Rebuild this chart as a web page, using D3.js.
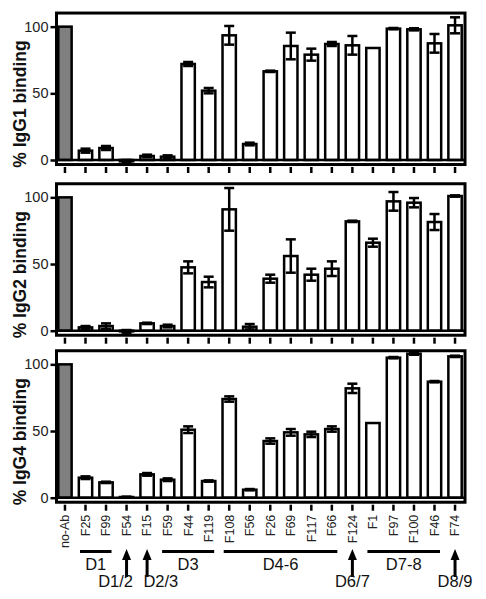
<!DOCTYPE html>
<html><head><meta charset="utf-8">
<script src="https://cdn.jsdelivr.net/npm/d3@7"></script>
<style>body{margin:0;background:#fff} svg{display:block}</style>
</head><body><svg id="c" width="486" height="599"></svg>
<script>
const categories = ["no-Ab","F25","F99","F54","F15","F59","F44","F119","F108","F56","F26","F69","F117","F66","F124","F1","F97","F100","F46","F74"];
const igg1    = [100, 7, 9, -1, 3, 2.5, 72, 52, 93.5, 12, 66.5, 85.5, 79, 87, 86, 84, 98.5, 98, 87.5, 101];
const igg1Err = [0, 1.5, 1.5, 1, 1, 1, 1.5, 2, 7, 1, 0.5, 10, 4.5, 1.5, 7, 0, 0.5, 0.8, 7, 6];
const igg2    = [100, 2.5, 3.5, -0.5, 5.5, 3.5, 47.5, 36.5, 91, 3, 39, 56, 42, 46.5, 82, 66, 97, 96, 81.5, 101];
const igg2Err = [0, 1, 2, 1, 0.5, 1, 4.5, 4, 16, 2, 3, 12.5, 4.5, 5.5, 0.5, 3, 7, 3.5, 6, 0.5];
const igg4    = [100, 15, 11.5, 0.5, 17.5, 13.5, 51, 12.5, 74, 6, 42.5, 49, 47.5, 51.5, 82, 56, 105, 108, 87, 106];
const igg4Err = [0, 1, 0.5, 0.3, 1, 1, 2.5, 0.5, 2, 0.5, 2, 2.5, 2, 2, 3.5, 0, 0.5, 0.8, 0.5, 0.5];
const panelTitles = ["% IgG1 binding", "% IgG2 binding", "% IgG4 binding"];
const yTicks = [0, 50, 100];
const groupNames = ["D1", "D3", "D4-6", "D7-8"];
const groupFrom  = ["F25", "F59", "F108", "F1"];
const groupTo    = ["F99", "F119", "F66", "F46"];
const arrowNames = ["D1/2", "D2/3", "D6/7", "D8/9"];
const arrowAt    = ["F54", "F15", "F124", "F74"];

const series = [[igg1, igg1Err], [igg2, igg2Err], [igg4, igg4Err]];
const svg = d3.select("#c");
const font = "Liberation Sans, Arial, Helvetica, sans-serif";
const x = d3.scaleBand().domain(categories).range([54.7, 465.3]).paddingInner(0.35).paddingOuter(0.175);
const frameL = 56.5, frameR = 465;
const zeros = [160, 330.7, 497.7];

series.forEach(([vals, errs], p) => {
  const Z = zeros[p];
  const y = d3.scaleLinear().domain([0, 100]).range([Z, Z - 133.35]);
  const g = svg.append("g");
  g.append("rect").attr("x", frameL).attr("y", y(110.2)).attr("width", frameR - frameL)
    .attr("height", y(-3.4) - y(110.2)).attr("fill", "none").attr("stroke", "#000").attr("stroke-width", 3);
  g.selectAll("rect.bar").data(categories).join("rect").attr("class", "bar")
    .attr("x", d => x(d)).attr("width", x.bandwidth())
    .attr("y", (d, i) => Math.min(y(vals[i]), y(0)))
    .attr("height", (d, i) => Math.abs(y(vals[i]) - y(0)))
    .attr("fill", (d, i) => i === 0 ? "#7f7f7f" : "#fff")
    .attr("stroke", "#000").attr("stroke-width", 2.5);
  g.append("line").attr("x1", frameL).attr("x2", frameR).attr("y1", y(0)).attr("y2", y(0))
    .attr("stroke", "#000").attr("stroke-width", 2.5);
  categories.forEach((c, i) => {
    if (!errs[i]) return;
    const cx = x(c) + x.bandwidth() / 2;
    const lo = y(vals[i] - errs[i]), hi = y(vals[i] + errs[i]);
    const eb = g.append("g").attr("stroke", "#000").attr("stroke-width", 2.5);
    eb.append("line").attr("x1", cx).attr("x2", cx).attr("y1", lo).attr("y2", hi);
    eb.append("line").attr("x1", cx - 5).attr("x2", cx + 5).attr("y1", lo).attr("y2", lo);
    eb.append("line").attr("x1", cx - 5).attr("x2", cx + 5).attr("y1", hi).attr("y2", hi);
  });
  const ya = g.append("g").attr("transform", `translate(${frameL},0)`)
    .call(d3.axisLeft(y).tickValues(yTicks).tickSize(6).tickPadding(2));
  ya.select(".domain").remove();
  ya.selectAll(".tick line").attr("stroke", "#000").attr("stroke-width", 2.5);
  ya.selectAll(".tick text").attr("font-family", font).attr("font-size", 14.5).attr("fill", "#222");
  const xa = g.append("g").attr("transform", `translate(0,${Z + 7})`)
    .call(d3.axisBottom(x).tickSize(6).tickPadding(3).tickFormat(p === 2 ? (d => d) : () => ""));
  xa.select(".domain").remove();
  xa.selectAll(".tick line").attr("stroke", "#000").attr("stroke-width", 2.5);
  if (p === 2) {
    xa.selectAll(".tick text").attr("font-family", font).attr("font-size", 12.5).attr("fill", "#222")
      .attr("transform", "rotate(-90)").attr("text-anchor", "end")
      .attr("x", -10).attr("y", 0).attr("dy", "0.35em");
  }
  g.append("text").attr("transform", `translate(20,${Z - 56}) rotate(-90)`)
    .attr("text-anchor", "middle").attr("dominant-baseline", "central")
    .attr("font-family", font).attr("font-weight", "bold").attr("font-size", 17.5).attr("fill", "#111")
    .text(panelTitles[p]);
});

const cxOf = c => x(c) + x.bandwidth() / 2;
const ann = svg.append("g").attr("font-family", font).attr("font-size", 16.5).attr("fill", "#111");
groupNames.forEach((n, i) => {
  const a = cxOf(groupFrom[i]) - 5.5, b = cxOf(groupTo[i]) + 5.5;
  ann.append("line").attr("x1", a).attr("x2", b).attr("y1", 551.5).attr("y2", 551.5)
    .attr("stroke", "#000").attr("stroke-width", 3);
  ann.append("text").attr("x", (cxOf(groupFrom[i]) + cxOf(groupTo[i])) / 2).attr("y", 570)
    .attr("text-anchor", "middle").text(n);
});
arrowNames.forEach((n, i) => {
  const cx = cxOf(arrowAt[i]);
  ann.append("path").attr("d", `M${cx},549 L${cx - 4.5},560 L${cx + 4.5},560 Z`).attr("fill", "#000");
  ann.append("line").attr("x1", cx).attr("x2", cx).attr("y1", 558).attr("y2", 577)
    .attr("stroke", "#000").attr("stroke-width", 3);
  const anchor = i === 0 ? "end" : (i === 1 ? "start" : "middle");
  const tx = i === 0 ? cx + 6.5 : (i === 1 ? cx - 3.7 : cx);
  ann.append("text").attr("x", tx).attr("y", 586.5).attr("text-anchor", anchor).text(n);
});
</script></body></html>
